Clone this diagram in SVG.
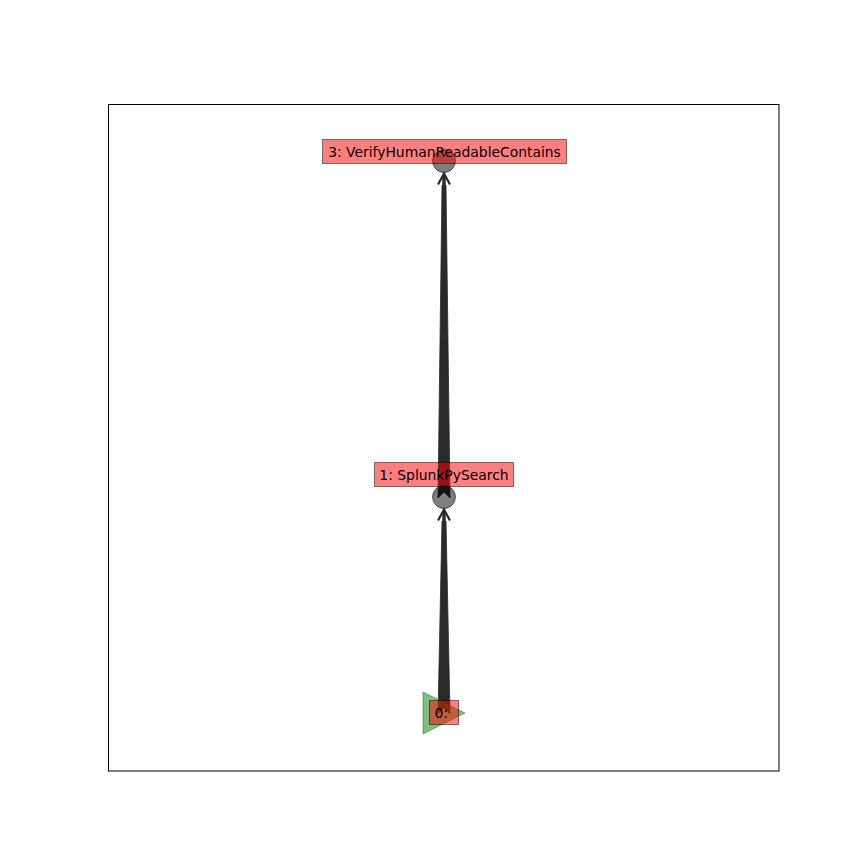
<svg xmlns="http://www.w3.org/2000/svg" width="866" height="866" viewBox="0 0 866 866">
<style>
.edge{fill:#2a2a2a;stroke:#2a2a2a;stroke-width:0.8;stroke-linejoin:miter}
.head{fill:none;stroke:#2a2a2a;stroke-width:2.2;stroke-linejoin:miter;stroke-linecap:butt}
.node{fill:#000;fill-opacity:0.5;stroke:#000;stroke-opacity:0.5;stroke-width:1}
.start{fill:#008000;fill-opacity:0.5;stroke:#008000;stroke-opacity:0.5;stroke-width:1}
.lbl{fill:#ff0000;fill-opacity:0.5;stroke:#000;stroke-opacity:0.5;stroke-width:1}
.txt{font-family:"DejaVu Sans",sans-serif;font-size:13.89px;fill:#000}
</style>
<rect width="866" height="866" fill="#fff"/>
<rect x="108.5" y="104.5" width="670.5" height="666.5" fill="none" stroke="#000" stroke-width="1"/>
<g id="connectors">
<g id="edge-0-1">
<polygon class="edge" points="438,714 442,521 446,521 450,714 444,708"/>
<line x1="444" y1="522" x2="444" y2="511" stroke="#2a2a2a" stroke-width="3.5"/>
<polyline class="head" points="438,520.5 444,509.5 450,520.5"/>
</g>
<g id="edge-1-3">
<polygon class="edge" points="438,498 442,185 446,185 450,498 444,492"/>
<line x1="444" y1="186" x2="444" y2="175" stroke="#2a2a2a" stroke-width="3.5"/>
<polyline class="head" points="438,184.5 444,173.5 450,184.5"/>
</g>
</g>
<g id="node-3">
<circle class="node" cx="444" cy="161" r="11.5"/>
</g>
<g id="node-1">
<circle class="node" cx="444" cy="497" r="11.5"/>
</g>
<g id="node-0">
<polygon class="start" points="423,692 465,713 423,734"/>
</g>
<g id="label-3">
<rect class="lbl" x="322.5" y="139.5" width="244" height="24"/>
<text class="txt" x="444.5" y="156.5" text-anchor="middle">3: VerifyHumanReadableContains</text>
</g>
<g id="label-1">
<rect class="lbl" x="374.5" y="462.5" width="139" height="24"/>
<text class="txt" x="444" y="479.5" text-anchor="middle">1: SplunkPySearch</text>
</g>
<g id="label-0">
<rect class="lbl" x="429.5" y="700.5" width="29" height="24"/>
<text class="txt" x="434.5" y="717.5">0:</text>
</g>
</svg>
